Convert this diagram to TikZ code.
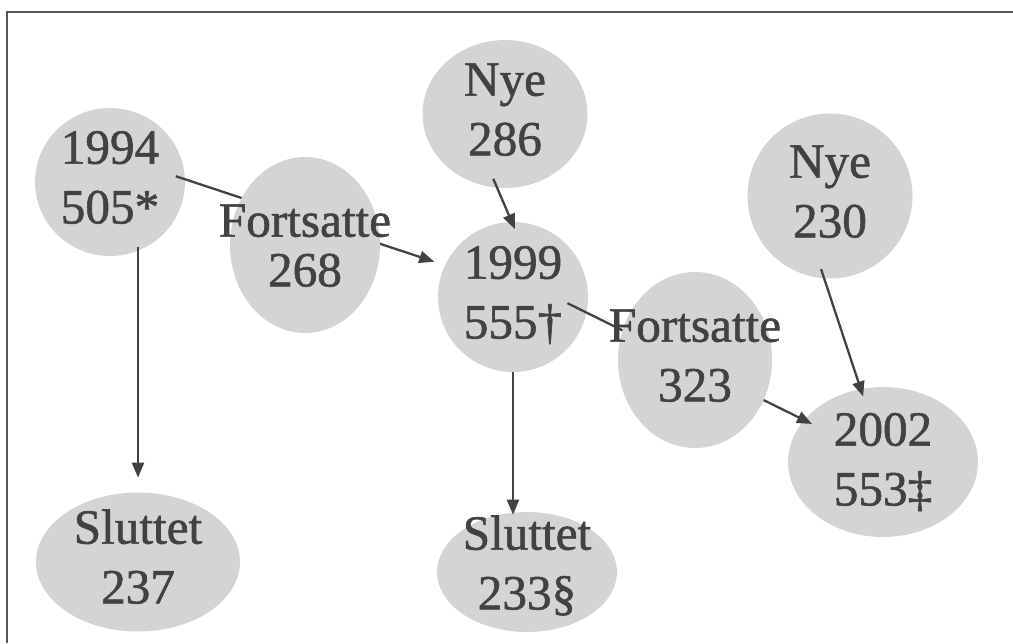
\documentclass[tikz,border=0pt]{standalone}
\usepackage{fontspec}
\usetikzlibrary{shapes.geometric,arrows.meta}
\newfontfamily\blobfont{Liberation Serif}[FakeBold=1.2]
\definecolor{blobgray}{RGB}{212,212,212}
\definecolor{inkgray}{RGB}{66,66,66}
% two centred lines that do not widen the ellipse
\newcommand{\twolines}[2][-0.42cm]{\raisebox{#1}{\smash{\makebox[0pt]{\begin{tabular}{@{}c@{}}#2\end{tabular}}}}}

\begin{document}
\begin{tikzpicture}
	 [x=0.02cm,y=-0.02cm,every node/.style={ellipse,fill=blobgray,inner sep=0pt,text=inkgray,font=\blobfont\fontsize{28}{34}\selectfont},
	  arr/.style={draw=inkgray,line width=1.3pt,-{Triangle[length=0.3cm,width=0.24cm]}}]

	\useasboundingbox (0,0) rectangle (1013,643);
	\draw[inkgray!90,line width=1pt] (1013,12) -- (7,12) -- (7,643);

	  \node[minimum width=3cm,minimum height=2.96cm] (y94) at (110,182) {\twolines{1994\\505*}};
	  \node[minimum width=3.3cm,minimum height=2.96cm] (n286) at (505,114) {\twolines{Nye\\286}};
	  \node[minimum width=3cm,minimum height=3cm] (y99) at (513,297) {\twolines{1999\\555†}};
	  \node[minimum width=3.3cm,minimum height=3.3cm] (n230) at (830,196) {\twolines{Nye\\230}};
	  \node[minimum width=3.8cm,minimum height=3cm] (y02) at (883,462) {\twolines[-0.5cm]{2002\\553‡}};
	  \node[minimum width=4.08cm,minimum height=2.78cm] (s237) at (138,562) {\twolines{Sluttet\\237}};
	  \node[minimum width=3.6cm,minimum height=2.4cm] (s233) at (527,572) {\twolines[-0.26cm]{Sluttet\\233§}};

	\foreach \from/\to/\s/\e in {y94.2/y99.155/-0.2/0.22,n286.264/y99.91/-0.2/-0.16,y99.348/y02.152/-0.43/-0.18,n230.266/y02.107/-0.2/-0.16}
    \draw[arr,shorten <=\s cm,shorten >=\e cm] (\from) -- (\to);

	\draw[arr,shorten <=-0.18cm,shorten >=0.29cm] (s237.north |- y94.south) -- (s237.north);
	\draw[arr,shorten >=-0.06cm] (y99.south) -- (y99.south |- s233.north);

	  \node[minimum width=3cm,minimum height=3.52cm] (f268) at (305,245) {\twolines[-0.62cm]{Fortsatte\\[-0.2cm]268}};
	  \node[minimum width=3.08cm,minimum height=3.52cm] (f323) at (695,360) {\twolines{Fortsatte\\323}};

\end{tikzpicture}
\end{document}
